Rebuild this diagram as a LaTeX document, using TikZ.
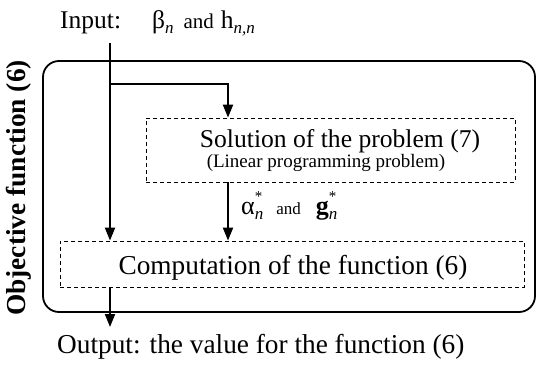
\documentclass[tikz,border=0pt]{standalone}
\usepackage{fontspec}
\setmainfont{Liberation Serif}
\usetikzlibrary{arrows.meta}
\newcommand{\supsubx}[2]{\makebox[0pt][l]{\raisebox{0.5em}{\fontsize{15}{15}\selectfont #1}}\raisebox{-0.22em}{\fontsize{17}{17}\selectfont\itshape #2}}
\newcommand{\subx}[1]{\raisebox{-0.22em}{\fontsize{17}{17}\selectfont\itshape #1}}
\tikzset{
  txt/.style={inner sep=0pt, font=\fontsize{27.3}{29}\selectfont},
  dbox/.style={draw, line width=0.8pt, dash pattern=on 4pt off 3pt, inner sep=0pt},
  obox/.style={draw, line width=1.8pt, rounded corners=16pt, inner sep=0pt},
  conn/.style={line width=2pt, -{Triangle[length=13pt,width=10pt]}}
}
\begin{document}
\begin{tikzpicture}[x=1pt,y=-1pt]
\useasboundingbox (0,0) rectangle (537,367);
% outer box
\node[obox, minimum width=492pt, minimum height=251pt] (outer) at (289,186.5) {};
% dashed boxes
\node[dbox, minimum width=369pt, minimum height=64pt] (sol) at (330.5,150) {};
\node[dbox, minimum width=464pt, minimum height=46pt] (comp) at (292,264) {};
% texts
\node[txt, anchor=base west, font=\fontsize{25.5}{27}\selectfont] (input) at (60,28) {Input:\hspace{31pt}β\subx{n}\hspace{10pt}{\fontsize{21}{23}\selectfont and}\hspace{7pt}h\subx{n,n}};
\node[txt, anchor=base, font=\fontsize{25.6}{28}\selectfont] (soltxt) at (340,147) {Solution of the problem (7)};
\node[txt, anchor=base, font=\fontsize{19}{21}\selectfont] (solsub) at (326,167) {(Linear programming problem)};
\node[txt, anchor=base] (comptxt) at (293,274) {Computation of the function (6)};
\node[txt, anchor=base west] (output) at (57,353) {Output: the value for the function (6)};
\node[txt, anchor=base west, font=\fontsize{26}{28}\selectfont] (lab) at (241,214) {α\supsubx{*}{n}\hspace{13pt}{\fontsize{17}{19}\selectfont and}\hspace{15pt}\textbf{g}\supsubx{*}{n}};
\node[txt, rotate=90, font=\fontsize{27.4}{29}\selectfont\bfseries] (obj) at (19,188) {Objective function (6)};
% coordinates
\coordinate (start) at (110,43);
\coordinate (branch) at (110,84);
\coordinate (outend) at (110,327);
% connectors
\draw[conn] (start) -- (start |- comp.north);
\draw[conn] (branch) -| (sol.north -| 228,0);
\draw[conn] (sol.south -| 228,0) -- (comp.north -| 228,0);
\draw[conn] (comp.south -| start) -- (outend);
\end{tikzpicture}
\end{document}
